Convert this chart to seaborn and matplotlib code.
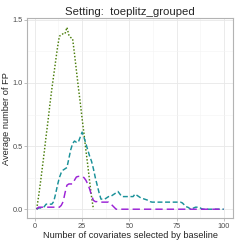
#!/usr/bin/env python3
"""
Average number of FP vs number of covariates selected by baseline
(setting: toeplitz_grouped), drawn with seaborn.
"""

import pandas as pd
import matplotlib.pyplot as plt
import seaborn as sns
from matplotlib.ticker import MultipleLocator

# x positions (number of covariates selected by baseline)
x_green = list(range(1, 32))
x_long = list(range(1, 101))

# green dotted method (stops at 31)
fp_green = [
    0.00, 0.10, 0.21, 0.33, 0.45, 0.58, 0.70, 0.83, 0.95, 1.06,
    1.17, 1.28, 1.37, 1.38, 1.39, 1.39, 1.44, 1.38, 1.36, 1.35,
    1.23, 1.10, 0.97, 0.85, 0.72, 0.60, 0.47, 0.35, 0.22, 0.10,
    0.00,
]

# teal dashed method
fp_teal = [
    0.00, 0.01, 0.01, 0.01, 0.02, 0.04, 0.04, 0.04, 0.04, 0.06,
    0.12, 0.19, 0.25, 0.29, 0.31, 0.32, 0.33, 0.40, 0.47, 0.52,
    0.54, 0.53, 0.53, 0.57, 0.61, 0.57, 0.52, 0.47, 0.42, 0.38,
    0.32, 0.25, 0.19, 0.13, 0.08, 0.08, 0.08, 0.09, 0.10, 0.10,
    0.11, 0.12, 0.13, 0.14, 0.12, 0.10, 0.10, 0.10, 0.10, 0.10,
    0.10, 0.10, 0.12, 0.11, 0.10, 0.09, 0.085, 0.08, 0.075, 0.07,
    0.06, 0.056, 0.056, 0.056, 0.056, 0.056, 0.056, 0.056, 0.056, 0.056,
    0.056, 0.056, 0.056, 0.056, 0.056, 0.056, 0.056, 0.05, 0.035, 0.02,
    0.015, 0.005, 0.00, 0.01, 0.016, 0.016, 0.016, 0.005, 0.00, 0.00,
    0.00, 0.00, 0.00, 0.00, 0.00, 0.00, 0.00, 0.00, 0.00, 0.00,
]

# purple long-dashed method
fp_purple = [
    0.00, 0.016, 0.016, 0.016, 0.016, 0.016, 0.016, 0.016, 0.016, 0.016,
    0.016, 0.016, 0.016, 0.03, 0.06, 0.13, 0.19, 0.20, 0.20, 0.20,
    0.23, 0.255, 0.26, 0.26, 0.26, 0.25, 0.23, 0.20, 0.16, 0.11,
    0.07, 0.06, 0.06, 0.056, 0.056, 0.056, 0.056, 0.056, 0.056, 0.045,
    0.03, 0.015, 0.00, 0.00, 0.00, 0.00, 0.00, 0.00, 0.00, 0.00,
    0.00, 0.00, 0.00, 0.00, 0.00, 0.00, 0.00, 0.00, 0.00, 0.00,
    0.00, 0.00, 0.00, 0.00, 0.00, 0.00, 0.00, 0.00, 0.00, 0.00,
    0.00, 0.00, 0.00, 0.00, 0.00, 0.00, 0.00, 0.00, 0.00, 0.00,
    0.00, 0.00, 0.00, 0.00, 0.00, 0.00, 0.00, 0.00, 0.00, 0.00,
    0.00, 0.00, 0.00, 0.00, 0.00, 0.00, 0.00, 0.00, 0.00, 0.00,
]

x_ticks = [0, 25, 50, 75, 100]
y_ticks = [0.0, 0.5, 1.0, 1.5]


def create_plot():
    df = pd.concat([
        pd.DataFrame({'n': x_green, 'fp': fp_green, 'method': 'green'}),
        pd.DataFrame({'n': x_long, 'fp': fp_teal, 'method': 'teal'}),
        pd.DataFrame({'n': x_long, 'fp': fp_purple, 'method': 'purple'}),
    ], ignore_index=True)

    sns.set_theme(style='white')
    plt.rcParams['font.family'] = ['Liberation Sans', 'DejaVu Sans']

    fig = plt.figure(figsize=(2.41, 2.41), dpi=100)
    ax = fig.add_axes([27.3 / 241, 1 - 218.3 / 241, 206 / 241, 200 / 241])

    palette = {'green': '#4a7d0a', 'teal': '#1a9199', 'purple': '#9b22d6'}
    dashes = {'green': (1.0, 1.3), 'teal': (3.4, 1.8), 'purple': (5.0, 2.8)}

    sns.lineplot(data=df, x='n', y='fp', hue='method', style='method',
                 palette=palette, dashes=dashes, linewidth=1.05,
                 legend=False, ax=ax)

    ax.set_xlim(-3.95, 104.95)
    ax.set_ylim(-0.072, 1.512)
    ax.set_xticks(x_ticks)
    ax.set_xticklabels([str(t) for t in x_ticks])
    ax.set_yticks(y_ticks)
    ax.set_yticklabels([f'{t:.1f}' for t in y_ticks])
    ax.xaxis.set_minor_locator(MultipleLocator(12.5))
    ax.yaxis.set_minor_locator(MultipleLocator(0.25))

    ax.grid(which='major', color='#e8e8e8', linewidth=0.6)
    ax.grid(which='minor', color='#f3f3f3', linewidth=0.4)
    ax.set_axisbelow(True)
    for sp in ax.spines.values():
        sp.set_color('#b3b3b3')
        sp.set_linewidth(0.8)

    ax.tick_params(which='major', length=2.2, width=0.6, color='#b3b3b3',
                   labelsize=5.3, labelcolor='#4d4d4d', pad=1.2,
                   bottom=True, left=True)
    ax.tick_params(which='minor', length=0)

    ax.set_xlabel('Number of covariates selected by baseline', fontsize=6.7, labelpad=0.5)
    ax.set_ylabel('Average number of FP', fontsize=6.7, labelpad=0.8)
    ax.set_title('Setting:  toeplitz_grouped', fontsize=8.2, pad=2.5)

    fig.savefig('out.png', dpi=100)
    plt.close(fig)


if __name__ == '__main__':
    create_plot()
